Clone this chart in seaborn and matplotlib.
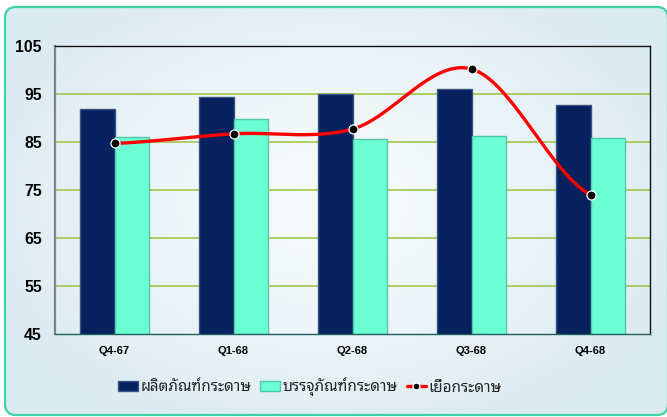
import numpy as np
import pandas as pd
import matplotlib
matplotlib.use("Agg")
import matplotlib.pyplot as plt
from matplotlib import font_manager
from matplotlib.patches import FancyBboxPatch, Patch
from matplotlib.lines import Line2D
import seaborn as sns

# ---- data ----
quarters = ["Q4-67", "Q1-68", "Q2-68", "Q3-68", "Q4-68"]
series_names = ["ผลิตภัณฑ์กระดาษ", "บรรจุภัณฑ์กระดาษ", "เยื่อกระดาษ"]
paper_products = [91.9, 94.4, 94.9, 96.0, 92.7]
paper_packaging = [86.1, 89.7, 85.6, 86.2, 85.8]
pulp = [84.7, 86.7, 87.7, 100.2, 74.0]
y_ticks = [45, 55, 65, 75, 85, 95, 105]

sns.set_theme(style="white")
plt.rcParams["font.family"] = ["Liberation Sans", "DejaVu Sans"]


def has_font(name):
    try:
        font_manager.findfont(font_manager.FontProperties(family=name, weight="bold"),
                              fallback_to_default=False)
        return True
    except Exception:
        return False


narrow = has_font("Liberation Sans Narrow")
tick_family = "Liberation Sans Narrow" if narrow else "Liberation Sans"
y_size = 12.5 if narrow else 11.4
x_size = 9 if narrow else 8.0

W, H = 667, 417
fig = plt.figure(figsize=(W / 100, H / 100), dpi=100)
fig.patch.set_facecolor("white")

# background gradient inside rounded frame
bg = fig.add_axes([0, 0, 1, 1], zorder=-10)
bg.axis("off")
yy, xx = np.mgrid[0:H, 0:W]
cx, cy = 330, 200
r = np.sqrt(((xx - cx) / 380.0) ** 2 + ((yy - cy) / 260.0) ** 2)
r = np.clip(r, 0, 1)
c_in = np.array([248, 251, 252]) / 255.0
c_out = np.array([218, 234, 241]) / 255.0
t = r[..., None] ** 1.3
img = c_in * (1 - t) + c_out * t
im = bg.imshow(img, extent=(0, W, H, 0), aspect="auto", zorder=0)
bg.set_xlim(0, W)
bg.set_ylim(H, 0)
frame = FancyBboxPatch((5, 7), 668 - 5, 415 - 7,
                       boxstyle="round,pad=0,rounding_size=11",
                       facecolor="none", edgecolor="#3fd2a6", linewidth=1.6,
                       transform=bg.transData, zorder=5)
bg.add_patch(frame)
clipbox = FancyBboxPatch((5, 7), 668 - 5, 415 - 7,
                         boxstyle="round,pad=0,rounding_size=11",
                         transform=bg.transData, facecolor="none", edgecolor="none")
bg.add_patch(clipbox)
im.set_clip_path(clipbox)

# main axes
left, right, top, bottom = 55, 650, 46, 334
ax = fig.add_axes([left / W, 1 - bottom / H, (right - left) / W, (bottom - top) / H])
ax.set_facecolor("none")

navy = "#07215e"
teal = "#6cffd4"

df = pd.DataFrame({
    "quarter": quarters * 2,
    "value": paper_products + paper_packaging,
    "series": [series_names[0]] * 5 + [series_names[1]] * 5,
})
sns.barplot(data=df, x="quarter", y="value", hue="series", order=quarters,
            hue_order=series_names[:2], palette=[navy, teal], width=0.572,
            saturation=1, ax=ax, legend=False, zorder=2)
for p, ec in zip(ax.patches, ["#3a5486"] * 5 + ["#4fc9a6"] * 5):
    p.set_edgecolor(ec)
    p.set_linewidth(1.0)

# smoothed pulp line (Catmull-Rom through the data points)
xs = np.arange(len(pulp), dtype=float)
ys = np.array(pulp, dtype=float)
px = np.concatenate([[2 * xs[0] - xs[1]], xs, [2 * xs[-1] - xs[-2]]])
py = np.concatenate([[ys[0]], ys, [ys[-1]]])
cxs, cys = [], []
tt = np.linspace(0, 1, 40)
for i in range(1, len(px) - 2):
    p0, p1, p2, p3 = [np.array([px[j], py[j]]) for j in (i - 1, i, i + 1, i + 2)]
    b1 = p1 + (p2 - p0) / 6.0
    b2 = p2 - (p3 - p1) / 6.0
    seg = ((1 - tt) ** 3)[:, None] * p1 + (3 * (1 - tt) ** 2 * tt)[:, None] * b1 \
        + (3 * (1 - tt) * tt ** 2)[:, None] * b2 + (tt ** 3)[:, None] * p2
    cxs.extend(seg[:, 0]); cys.extend(seg[:, 1])
ax.plot(cxs, cys, color="#ff0000", linewidth=2.4, zorder=4, solid_capstyle="round")
ax.plot(xs, ys, linestyle="none", marker="o", markersize=6.5,
        markerfacecolor="black", markeredgecolor="white", markeredgewidth=0.9, zorder=5)

ax.set_xlim(-0.5, 4.5)
ax.set_ylim(45, 105)
ax.set_yticks(y_ticks)
ax.set_xlabel("")
ax.set_ylabel("")
for yv in y_ticks[1:-1]:
    ax.axhline(yv, color="#9cc43c", linewidth=1.1, zorder=1)

ax.tick_params(axis="both", length=0)
ax.tick_params(axis="y", pad=9.4)
ax.tick_params(axis="x", pad=8.5)
for lab in ax.get_yticklabels():
    lab.set_fontfamily([tick_family, "DejaVu Sans"])
    lab.set_fontweight("bold")
    lab.set_fontsize(y_size)
    lab.set_color("black")
for lab in ax.get_xticklabels():
    lab.set_fontfamily([tick_family, "DejaVu Sans"])
    lab.set_fontweight("bold")
    lab.set_fontsize(x_size)
    lab.set_color("black")

ax.spines["left"].set_color("#7b8790")
ax.spines["left"].set_linewidth(1.6)
ax.spines["top"].set_color("#111111")
ax.spines["top"].set_linewidth(1.0)
ax.spines["right"].set_color("#111111")
ax.spines["right"].set_linewidth(1.0)
ax.spines["bottom"].set_color("#1d5e5a")
ax.spines["bottom"].set_linestyle((0, (1, 1)))
ax.spines["bottom"].set_linewidth(1.0)

handles = [
    Patch(facecolor=navy, edgecolor="#3a5486"),
    Patch(facecolor=teal, edgecolor="#4fc9a6"),
    Line2D([0], [0], color="#ff0000", lw=2.4, marker="o", markersize=5,
           markerfacecolor="black", markeredgecolor="white"),
]
leg = fig.legend(handles, series_names, loc="center", bbox_to_anchor=(310 / W, 1 - 387 / H),
                 ncol=3, frameon=False, handlelength=1.3, handleheight=0.7,
                 handletextpad=0.15, columnspacing=0.6,
                 prop={"family": ["Noto Sans Thai Looped", "DejaVu Sans"],
                       "size": 11, "weight": "semibold"})

fig.savefig("out.png", dpi=100)
